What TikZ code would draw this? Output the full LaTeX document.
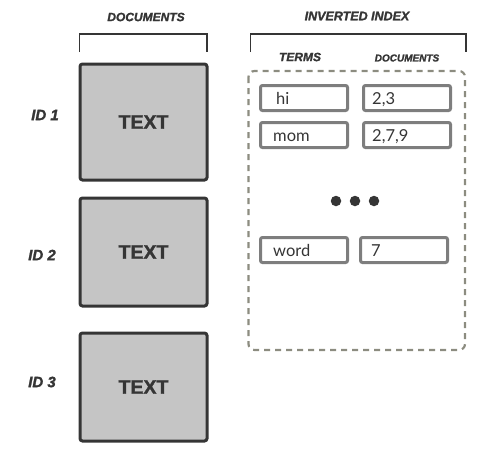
\documentclass[tikz,border=0pt]{standalone}
\usepackage{fontspec}
\setmainfont{Liberation Sans}
\newfontfamily\heavyfont[FakeBold=1.6]{Liberation Sans Bold}
\newfontfamily\heavyit[FakeBold=1.6]{Liberation Sans Bold Italic}
\newfontfamily\boxfont{Lato}
\usetikzlibrary{positioning}
\definecolor{inkdark}{HTML}{353535}
\definecolor{docgray}{HTML}{C5C5C5}
\definecolor{cellgray}{HTML}{7E7E7E}
\definecolor{dashgray}{HTML}{8C8C80}
\begin{document}
\begin{tikzpicture}[x=1pt,y=-1pt]%
        \useasboundingbox (0,0) rectangle (478,452); %%
        % headers and brackets
        \begin{scope}
            \tikzstyle{every node}=[text=inkdark];%%
            \node[font=\heavyit\fontsize{12}{12}\selectfont] (hdocs) at (146,17)  {DOCUMENTS}; %%
            \node[font=\heavyit\fontsize{12.5}{12}\selectfont] (hindex) at (357,16)  {INVERTED INDEX}; %%
            \node[font=\heavyit\fontsize{12}{12}\selectfont] (hterms) at (300,57)  {TERMS}; %%
            \node[font=\heavyit\fontsize{10}{12}\selectfont] (hcols) at (407,58)  {DOCUMENTS}; %%
        \end{scope}
        \draw[inkdark,line width=1.3pt] (79.5,52) -- (79.5,34) -- (207,34) -- (207,52); %%
        \draw[inkdark,line width=1.3pt] (250.5,52) -- (250.5,34) -- (466,34) -- (466,52); %%
        % documents
        \begin{scope}
            \tikzstyle{every node}=[draw=inkdark,fill=docgray,line width=3pt,rounded corners=2.5pt,minimum width=127pt,text=inkdark,font=\heavyfont\fontsize{19.5}{20}\selectfont];%%
            \node[minimum height=116pt] (doc1) at (143.5,122)  {TEXT}; %%
            \node[minimum height=108pt] (doc2) at (143.5,252)  {TEXT}; %%
            \node[minimum height=108pt] (doc3) at (143.5,387)  {TEXT}; %%
        \end{scope}
        \begin{scope}
            \tikzstyle{every node}=[text=inkdark,font=\heavyit\fontsize{15}{15}\selectfont];%%
            \node (id1) at (45,115)  {ID 1}; %%
            \node (id2) at (42,255)  {ID 2}; %%
            \node (id3) at (42,382)  {ID 3}; %%
        \end{scope}
        % inverted index
        \draw[dashgray,line width=2.2pt,dash pattern=on 6pt off 5pt,rounded corners=6pt] (248.5,71) rectangle (465,350); %%
        \begin{scope}
            \tikzstyle{every node}=[draw=cellgray,line width=3pt,rounded corners=2pt,minimum width=87pt,minimum height=25pt,inner sep=0pt];%%
            \node (thi) at (304,98)  {}; %%
            \node (phi) at (407,98)  {}; %%
            \node (tmom) at (304,135)  {}; %%
            \node (pmom) at (407,135)  {}; %%
            \node (tword) at (304,250)  {}; %%
            \node (pword) at (404,250)  {}; %%
        \end{scope}
        \begin{scope}
            \tikzstyle{every node}=[anchor=base west,inner sep=0pt,text=inkdark,font=\boxfont\fontsize{16.5}{16}\selectfont];%%
            \node (lhi) at ([xshift=17pt,yshift=-6pt]thi.west)  {hi}; %%
            \node (lphi) at ([xshift=10pt,yshift=-6pt]phi.west)  {2,3}; %%
            \node (lmom) at ([xshift=14pt,yshift=-6pt]tmom.west)  {mom}; %%
            \node (lpmom) at ([xshift=10pt,yshift=-6pt]pmom.west)  {2,7,9}; %%
            \node (lword) at ([xshift=14pt,yshift=-6pt]tword.west)  {word}; %%
            \node (lpword) at ([xshift=12pt,yshift=-6pt]pword.west)  {7}; %%
        \end{scope}
        \foreach \dx/\nm in {336/dota,355/dotb,374/dotc}
            \node[circle,fill=inkdark,minimum size=10.5pt,inner sep=0pt] (\nm) at (\dx,201) {}; %%
        \end{tikzpicture}
\end{document}
